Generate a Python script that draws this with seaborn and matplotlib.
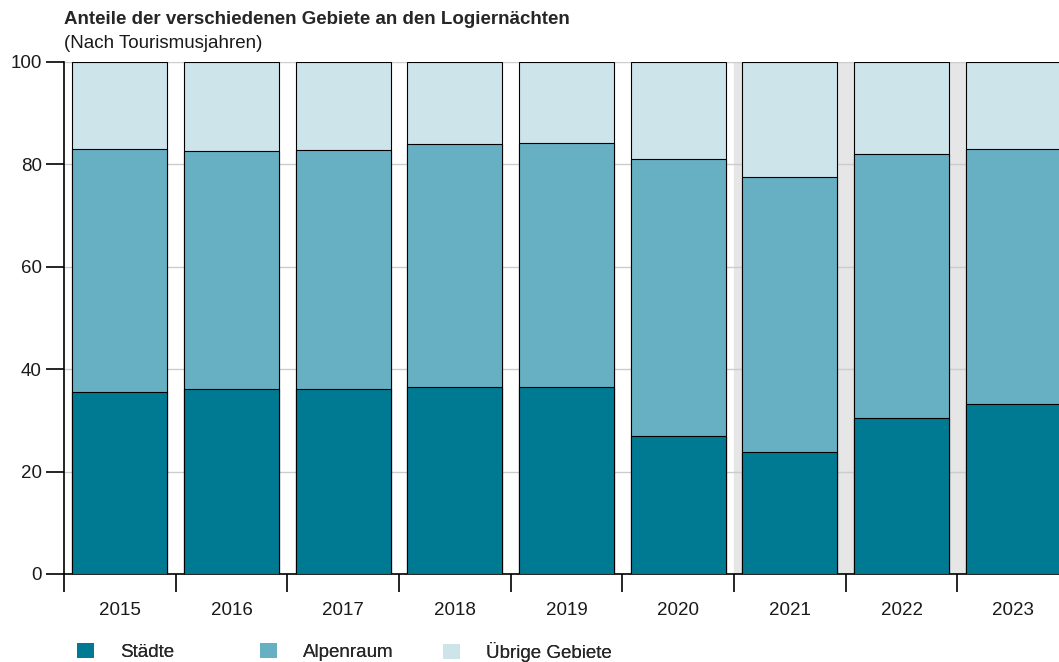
import matplotlib
matplotlib.use("Agg")
import matplotlib.pyplot as plt
import seaborn as sns
import numpy as np
from matplotlib.patches import Patch

# Anteile in Prozent, nach Tourismusjahr
years = ["2015", "2016", "2017", "2018", "2019", "2020", "2021", "2022", "2023"]
staedte = [35.6, 36.2, 36.1, 36.5, 36.6, 27.0, 23.9, 30.4, 33.2]
alpenraum = [47.4, 46.5, 46.8, 47.4, 47.6, 54.0, 53.6, 51.7, 49.9]
uebrige = [17.0, 17.3, 17.1, 16.1, 15.8, 19.0, 22.5, 17.9, 16.9]
series_names = ["Städte", "Alpenraum", "Übrige Gebiete"]
colors = ["#007a92", "#67afc2", "#cce4ea"]

sns.set_theme(style="white")
plt.rcParams["font.family"] = ["Liberation Sans", "DejaVu Sans"]
fs = 13.5

fig = plt.figure(figsize=(10.59, 6.62), dpi=100)
ax = fig.add_axes([64 / 1059, 1 - 574 / 662, 1005 / 1059, 512 / 662])

# stacked bars drawn as cumulative totals, largest first
cum1 = np.array(staedte)
cum2 = cum1 + np.array(alpenraum)
cum3 = cum2 + np.array(uebrige)
for vals, col in zip([cum3, cum2, cum1], colors[::-1]):
    sns.barplot(x=years, y=vals, color=col, saturation=1, width=0.85,
                edgecolor="black", linewidth=0.8, ax=ax, zorder=3)

ax.set_xlim(-0.5, 8.5)
ax.set_ylim(0, 100)
ax.axvspan(5.5, 8.5, color="#e6e6e6", zorder=0)
ax.set_yticks([0, 20, 40, 60, 80, 100])
ax.yaxis.grid(True, color="#cccccc", linewidth=1, zorder=1)
ax.set_axisbelow(True)

ax.set_xticks(range(len(years)))
ax.set_xticklabels(years)
ax.set_xticks(np.arange(-0.5, 9, 1), minor=True)
ax.tick_params(axis="x", which="major", bottom=False, pad=14, labelsize=fs, labelcolor="#1a1a1a")
ax.tick_params(axis="x", which="minor", bottom=True, length=13, width=1.2, color="black", direction="out")
ax.tick_params(axis="y", which="major", left=True, length=13, width=1.2, color="black", direction="out",
               pad=3, labelsize=fs, labelcolor="#1a1a1a")
ax.set_xlabel("")
ax.set_ylabel("")

for s in ["top", "right"]:
    ax.spines[s].set_visible(False)
for s in ["left", "bottom"]:
    ax.spines[s].set_color("black")
    ax.spines[s].set_linewidth(1.2)

fig.text(64 / 1059, 1 - 20 / 662, "Anteile der verschiedenen Gebiete an den Logiernächten",
         fontsize=fs, fontweight="bold", va="center", ha="left")
fig.text(64 / 1059, 1 - 43 / 662, "(Nach Tourismusjahren)",
         fontsize=fs, va="center", ha="left", color="#1a1a1a")

# legend entries at fixed column positions
legend_x = [77, 260, 443]
for name, col, lx in zip(series_names, colors, legend_x):
    leg = fig.legend([Patch(facecolor=col, edgecolor="none")], [name], loc="center left",
                     bbox_to_anchor=(lx / 1059, 1 - 652 / 662), frameon=False, fontsize=fs,
                     handlelength=0.9, handleheight=0.9, handletextpad=1.4,
                     borderaxespad=0, borderpad=0)
    fig.add_artist(leg)

fig.savefig("out.png", dpi=100)
